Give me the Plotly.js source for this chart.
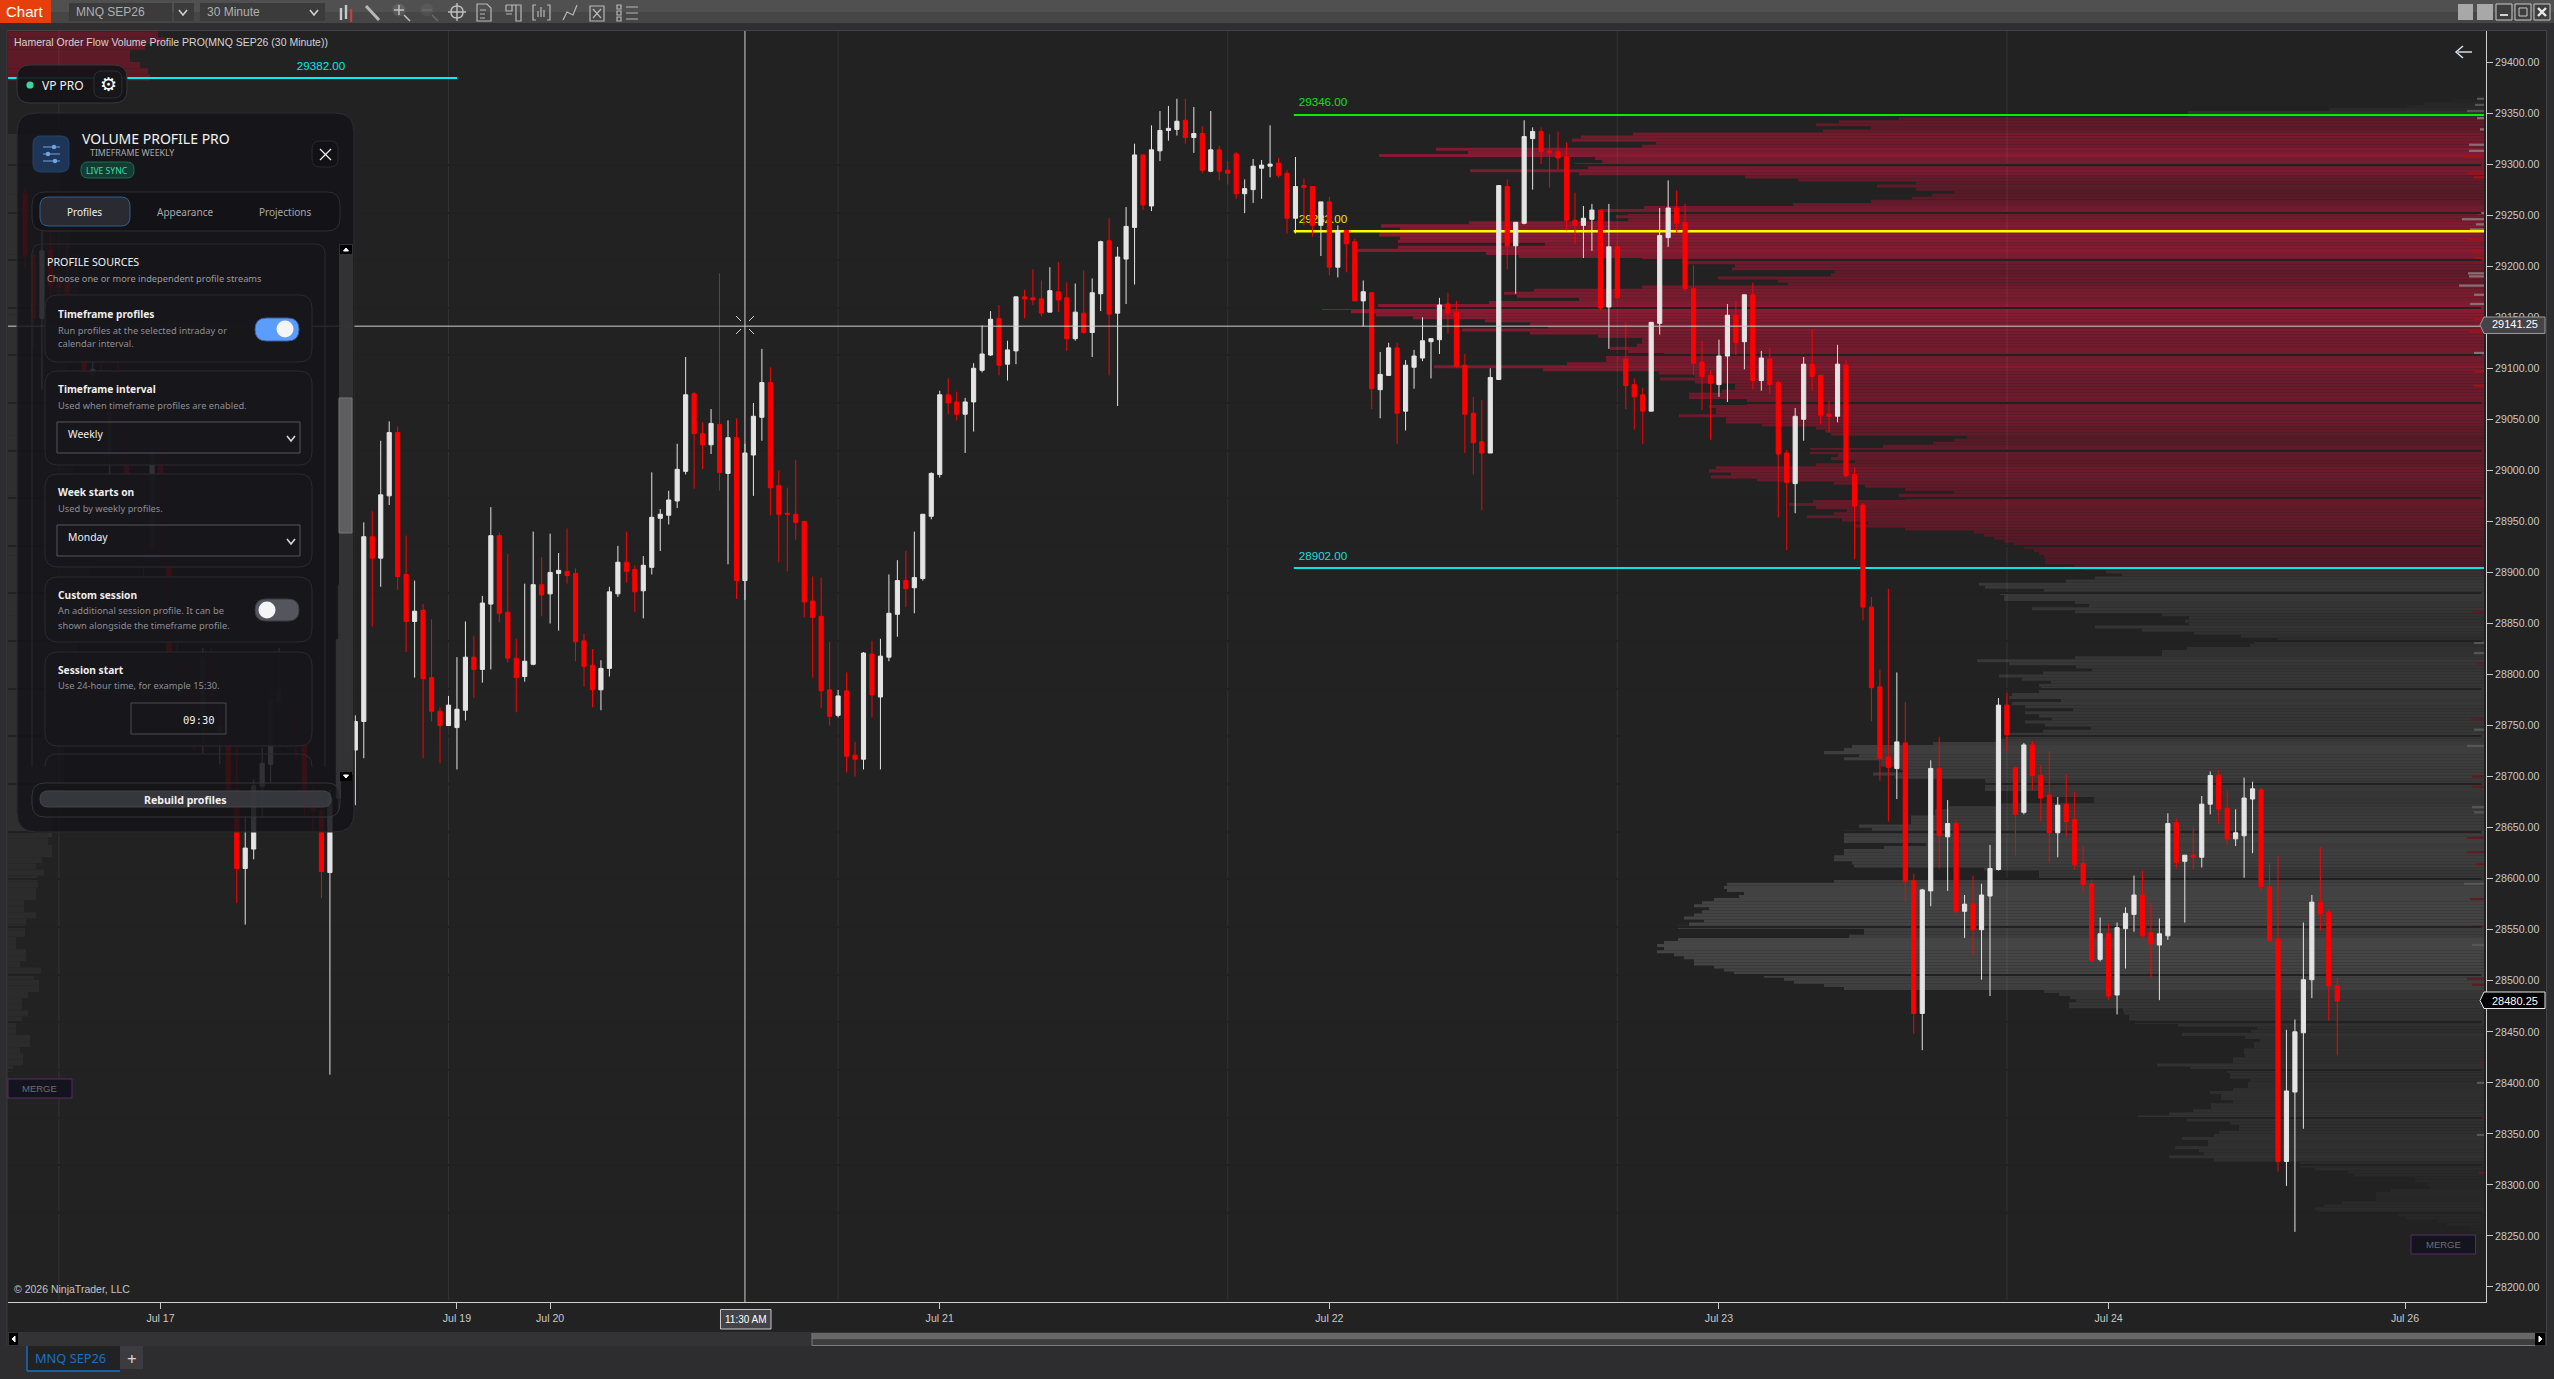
<!DOCTYPE html>
<html>
<head>
<meta charset="utf-8">
<script src="https://cdn.plot.ly/plotly-3.0.1.min.js"></script>
<style>
html, body { margin: 0; padding: 0; background: #2d2d2f; overflow: hidden; }
</style>
</head>
<body>
<div id="plot" style="width:2554px;height:1379px"></div>
<script>
// Candle values, one row per ten bars.
const highs = [
    29275,29221,29234,29231,29187,29220,29148,29146,29118,29125,
    29076,29106,29053,28981,28939,29027,29027,28917,28842,28814,
    28812,28826,28826,28772,28759,28736,28661,28697,28728,28788,
    28826,28809,28764,28746,28692,28672,28687,28888,28834,28760,
    28949,28960,29029,29048,29043,28936,28892,28869,28854,28768,
    28779,28817,28852,28838,28877,28964,28939,28918,28835,28889,
    28940,28915,28938,28919,28943,28904,28840,28825,28814,28886,
    28926,28940,28907,28916,28998,28962,28980,29026,29111,29077,
    29047,29060,29193,29049,29051,29026,29066,29119,29101,29000,
    28983,29010,28950,28896,28895,28832,28785,28802,28734,28822,
    28833,28835,28898,28912,28921,28940,28957,28998,29078,29090,
    29077,29071,29105,29142,29156,29162,29127,29170,29177,29197,
    29186,29199,29204,29184,29183,29196,29188,29225,29247,29219,
    29258,29320,29309,29338,29352,29357,29364,29364,29356,29337,
    29352,29318,29303,29312,29285,29305,29304,29338,29306,29294,
    29307,29286,29278,29263,29268,29240,29235,29227,29186,29174,
    29116,29125,29125,29108,29118,29150,29129,29169,29174,29166,
    29114,29072,29069,29100,29279,29285,29243,29343,29336,29336,
    29329,29332,29321,29272,29259,29261,29255,29261,29225,29145,
    29090,29081,29145,29257,29284,29274,29261,29201,29127,29098,
    29128,29163,29166,29172,29184,29117,29120,29088,29020,29061,
    29111,29138,29093,29068,29123,29108,29003,28968,28876,28805,
    28884,28802,28773,28605,28590,28716,28739,28677,28657,28584,
    28603,28595,28633,28777,28782,28710,28733,28735,28711,28725,
    28680,28702,28685,28632,28599,28562,28556,28557,28572,28603,
    28608,28576,28561,28664,28659,28623,28650,28681,28705,28706,
    28686,28668,28699,28695,28689,28615,28622,28452,28462,28557,
    28584,28631,28570,28503
];
const lows = [
    29198,29121,29079,29170,29163,29141,29123,29092,29076,29020,
    28994,29012,28971,28932,28895,28912,28908,28808,28775,28773,
    28726,28723,28733,28712,28682,28576,28555,28619,28661,28694,
    28764,28728,28718,28661,28646,28581,28408,28666,28721,28672,
    28718,28847,28886,28966,28883,28822,28797,28718,28754,28713,
    28750,28707,28755,28777,28792,28805,28851,28812,28763,28793,
    28809,28857,28850,28843,28889,28813,28788,28768,28765,28798,
    28876,28890,28861,28855,28898,28921,28947,28963,28996,28982,
    29001,29016,28980,28908,28874,28873,28975,29029,28956,28910,
    28901,28932,28856,28797,28767,28750,28758,28704,28700,28707,
    28758,28707,28813,28837,28866,28860,28892,28952,28993,29055,
    29049,29017,29038,29096,29112,29093,29088,29104,29149,29162,
    29151,29155,29155,29117,29127,29134,29111,29156,29093,29063,
    29163,29182,29255,29254,29303,29323,29328,29320,29311,29291,
    29292,29284,29280,29266,29252,29262,29266,29287,29287,29232,
    29232,29240,29229,29210,29191,29189,29194,29166,29141,29060,
    29051,29093,29026,29039,29080,29107,29090,29114,29134,29100,
    29017,28996,28961,29017,29089,29197,29173,29241,29275,29300,
    29277,29295,29235,29222,29208,29215,29157,29119,29169,29060,
    29040,29026,29058,29133,29219,29233,29175,29093,29059,29030,
    29072,29067,29113,29099,29079,29078,29075,28954,28922,28958,
    29029,29078,29045,29037,29047,28993,28913,28853,28754,28696,
    28656,28678,28577,28448,28432,28573,28610,28588,28566,28542,
    28525,28501,28485,28608,28725,28622,28663,28687,28656,28616,
    28621,28641,28609,28586,28517,28519,28481,28467,28512,28548,
    28542,28503,28481,28540,28610,28557,28609,28611,28663,28654,
    28633,28632,28601,28625,28588,28539,28313,28299,28254,28355,
    28483,28549,28461,28427
];
const bodyTops = [
    29271,29211,29215,29216,29182,29186,29143,29123,29099,29098,
    29059,29059,29040,28973,28929,29017,29017,28912,28810,28807,
    28788,28817,28817,28749,28749,28687,28630,28691,28713,28775,
    28785,28785,28764,28741,28675,28667,28679,28834,28834,28754,
    28935,28935,28976,29037,29037,28898,28862,28863,28797,28764,
    28770,28766,28817,28817,28870,28936,28936,28861,28816,28813,
    28888,28888,28900,28902,28901,28899,28833,28809,28806,28881,
    28910,28910,28903,28907,28954,28957,28971,29001,29074,29075,
    29036,29046,29045,29032,29032,29017,29053,29086,29086,28985,
    28958,28957,28950,28872,28857,28785,28779,28784,28721,28821,
    28820,28818,28860,28892,28892,28895,28957,28997,29074,29074,
    29067,29067,29100,29114,29148,29149,29118,29170,29170,29169,
    29168,29176,29175,29169,29155,29154,29174,29224,29225,29209,
    29239,29309,29309,29314,29333,29335,29342,29343,29330,29330,
    29314,29314,29294,29310,29276,29298,29299,29300,29301,29291,
    29278,29279,29278,29263,29263,29235,29235,29224,29175,29174,
    29094,29120,29120,29103,29112,29127,29129,29162,29163,29155,
    29103,29056,29028,29091,29279,29278,29243,29327,29332,29332,
    29313,29312,29307,29245,29247,29255,29255,29219,29219,29109,
    29084,29074,29145,29230,29257,29257,29243,29178,29106,29093,
    29112,29152,29152,29172,29172,29110,29109,29086,29017,29053,
    29104,29104,29093,29055,29104,29103,28996,28966,28866,28788,
    28719,28734,28733,28598,28589,28708,28708,28654,28654,28575,
    28575,28584,28610,28770,28770,28709,28731,28731,28701,28682,
    28672,28673,28658,28615,28595,28546,28546,28552,28566,28584,
    28584,28547,28546,28654,28655,28623,28623,28673,28701,28701,
    28669,28645,28679,28688,28687,28592,28541,28392,28450,28501,
    28577,28577,28567,28495
];
const bodyBottoms = [
    29211,29149,29149,29181,29179,29143,29123,29092,29092,29043,
    29019,29040,28973,28935,28925,28925,28912,28810,28806,28773,
    28753,28753,28763,28744,28687,28610,28610,28629,28690,28712,
    28773,28764,28740,28672,28666,28607,28606,28679,28726,28726,
    28754,28914,28914,28975,28896,28852,28852,28796,28764,28750,
    28750,28748,28765,28805,28805,28869,28860,28816,28797,28798,
    28810,28878,28879,28899,28897,28832,28808,28785,28785,28806,
    28879,28901,28881,28882,28905,28953,28956,28970,28999,29036,
    29025,29025,28998,28997,28892,28892,29015,29052,28983,28957,
    28957,28949,28871,28856,28784,28759,28760,28720,28717,28717,
    28780,28778,28817,28859,28884,28885,28894,28955,28996,29066,
    29055,29055,29067,29098,29113,29103,29104,29117,29168,29167,
    29154,29155,29167,29129,29129,29135,29135,29173,29153,29154,
    29207,29238,29260,29259,29313,29333,29334,29326,29326,29294,
    29293,29293,29291,29271,29271,29275,29296,29298,29289,29247,
    29247,29277,29240,29240,29199,29199,29222,29166,29166,29080,
    29079,29093,29056,29058,29101,29110,29126,29128,29154,29102,
    29055,29027,29017,29017,29089,29220,29220,29242,29325,29312,
    29311,29306,29245,29240,29240,29246,29159,29160,29169,29083,
    29072,29058,29058,29144,29228,29242,29178,29105,29092,29085,
    29084,29112,29125,29126,29088,29088,29084,29016,28988,28987,
    29050,29092,29054,29053,29053,28995,28965,28866,28787,28718,
    28709,28708,28597,28468,28468,28588,28642,28641,28568,28568,
    28550,28550,28583,28609,28741,28663,28665,28701,28679,28645,
    28645,28656,28614,28594,28520,28521,28485,28486,28551,28565,
    28544,28536,28535,28544,28616,28617,28621,28621,28673,28668,
    28639,28639,28642,28678,28592,28539,28323,28323,28391,28449,
    28501,28566,28495,28480.25
];
// W = white (up) bar, R = red (down) bar.
const barColours = [
    'RRWRRRRRWR','WRRRRWRRRR','RWRWRRWWWW','WRRRRRWWRW','WRWWRRWRRR','WWWRWWRRRW','WRWWRRRRWW',
    'WRRWWWWWWR','RWRWRWWWRR','RRRRRRWRRW','RWWWRWWWWR','RWWWWRWWRR','RWRRWRWWRW','WWRWWWWRWR',
    'WRRRWWWWRR','WRRWRWRRWR','WWRWWWWWRR','RRRWWRWWWR','RRRRWWRWRR','RRWWWRRRRR','WWRWRWRRRW',
    'WRRRWRRRRR','RWRRWWRWRW','RWWWRRWRRR','WRRRRWRWWW','RRWWRWRWWR','RWWWRRRWWW','WRRR'
].join('');

// Weekly volume profile, three points per row starting at profileTop.
const profileTop = 29364;
const profileRow = 3;
const profileVolumes = [
    31,61,77,155,296,296,585,
    645,668,613,661,851,903,912,828,842,1048,1016,1105,889,882,909,896,1014,905,739,686,
    568,607,568,530,552,572,613,691,840,883,856,868,856,1015,1103,1084,1104,1105,1084,1086,
    939,1086,1130,998,965,842,802,749,752,649,653,766,706,696,842,950,980,967,905,995,
    1106,1162,1133,1108,1071,999,954,936,1022,954,886,842,842,847,874,856,820,878,878,917,
    1050,941,825,789,824,789,749,749,762,795,795,737,737,775,768,768,805,758,758,722,
    668,659,653,517,530,551,601,674,674,646,653,629,668,768,775,753,773,727,650,619,
    579,530,585,579,671,695,668,637,650,677,642,616,628,579,510,500,490,480,470,460,
    450,445,440,439,439,410,400,
    378,362,389,418,505,499,440,484,480,480,409,395,452,409,322,295,299,295,389,342,
    290,243,207,230,234,297,322,322,409,507,475,408,392,441,485,462,433,445,443,445,
    472,475,423,472,459,411,459,445,432,459,439,393,441,479,479,484,551,632,640,660,
    625,640,603,603,589,576,611,589,499,498,499,499,445,445,390,390,486,535,549,549,
    573,573,573,625,612,640,640,640,640,558,600,640,640,650,650,632,630,500,445,445,
    445,650,757,760,757,740,745,770,782,790,775,782,790,800,780,795,806,620,620,635,
    806,820,827,820,827,810,800,790,790,770,760,750,720,700,690,660,640,440,425,414,
    408,415,415,361,360,355,355,349,306,227,233,302,239,224,230,230,240,240,239,251,
    251,327,294,257,254,254,234,236,236,251,274,263,263,251,273,273,291,315,346,297,
    254,245,245,265,270,302,276,276,309,285,280,315,270,184,184,169,136,130,69,69,
    57,54,93,108,108,108,142,160,169,166,87,78,47,38,14,14,8
];
const valueAreaHigh = 29346;
const valueAreaLow = 28902;

// Previous week's profile along the left edge.
const prevRedPrices = [29427,29421,29415,29409,29403,29397,29391,29385];
const prevRedVolumes = [150,157,137,122,122,132,140,142];
const prevUpperPrices = [29300,29241,29182,29123,29064,29005,28946,28887,28828,28769,28710,28670];
const prevUpperVolumes = [50,62,70,60,48,66,74,82,70,64,56,44];
const prevLowerTop = 28645;
const prevLowerVolumes = [
    40,40,44,44,34,28,36,29,30,28,28,16,16,28,18,17,17,8,8,18,
    18,12,33,26,31,31,20,14,14,20,14,8,8,22,22,12,15,15,5
];

// Bid/ask slivers against the price axis.
const deltaPrices = [
    29364,29358,29352,29345,29334,29319,29313,29307,29291,29287,29252,29246,29241,
    29236,29226,29214,29208,29193,29190,29181,29172,29163,29148,29136,29115,29097,
    29083,28861,28831,28821,28811,28756,28746,28730,28700,28690,28670,28665,28640,
    28626,28614,28595,28580,28553,28535,28502,28496,28420,28400,28367,28349,28312
];
const deltaSizes = [
    7,9,17,7,4,15,15,21,16,10,7,22,8,
    14,16,12,10,16,15,25,10,14,10,15,10,10,
    10,12,10,10,8,13,10,17,12,12,12,10,17,
    17,8,20,14,11,12,17,12,5,7,5,7,5
];
const deltaKinds = 'GGGGGGGRRRGGGGRRRGGGGGRRGRRRGGRRGGRRGGRRRGRRGRRRGRGR';

const levelPrices = [29382, 29346, 29232, 28902];
const levelColours = ['#00f0f0', '#00f000', '#ffff00', '#00e6e6'];
const levelLabelColours = ['#00e8e8', '#10e010', '#e8e800', '#20dcdc'];
const levelThickness = [1.4, 1.4, 2.6, 1.2];
const levelStarts = [-2, 149.8, 149.8, 149.8];
const levelEnds = [51, 290.32, 290.32, 290.32];
const labelStarts = [32, 150.3, 150.3, 150.3];

const gridPrices = [
    29299,29252.5,29206,29159.5,29113,29066,29019.5,28973,28926,28879.5,28833,28786,
    28739.5,28693,28646,28599.5,28553,28506,28459.5,28413,28366,28319.5,28273
];
const gridBars = [4, 50, 96, 142, 188, 234];
const dayTicks = [16, 51, 62, 108, 154, 200, 246, 281];
const dayLabels = ['Jul 17', 'Jul 19', 'Jul 20', 'Jul 21', 'Jul 22', 'Jul 23', 'Jul 24', 'Jul 26'];

const crossBar = 85;
const crossPrice = 29141.25;
const lastPrice = 28480.25;

// Pixel layout of the platform window around the plot.
const PLOT_L = 8, PLOT_R = 2486, PLOT_T = 31, PLOT_B = 1302;
const BAR_PX = 8.47;
const PROFILE_END = 290.32;
const priceMin = 28185.3, priceMax = 29430.4;
const X = v => ((v - PLOT_L) / (PLOT_R - PLOT_L)).toFixed(5);
const Y = v => ((PLOT_B - v) / (PLOT_B - PLOT_T)).toFixed(5);
const UI_FONT = '"Noto Sans", sans-serif';
const CHART_FONT = '"Liberation Sans", Arial, sans-serif';

const barIndex = highs.map((_, i) => i);
const opens = barIndex.map(i => barColours[i] === 'W' ? bodyBottoms[i] : bodyTops[i]);
const closes = barIndex.map(i => barColours[i] === 'W' ? bodyTops[i] : bodyBottoms[i]);

const profilePrices = profileVolumes.map((_, k) => profileTop - profileRow * k - profileRow / 2);
const profileColours = profileVolumes.map((v, k) => {
    if (profilePrices[k] < valueAreaHigh && profilePrices[k] > valueAreaLow) {
        return `rgb(${Math.round(45 + 0.08 * v)},${Math.round(24 + 0.003 * v)},${Math.round(28 + 0.02 * v)})`;
    }
    const g = Math.round(36 + 0.04 * v);

    return `rgb(${g},${g},${g})`;
});
const deltaColours = deltaPrices.map((p, i) => {
    const inside = p > valueAreaLow && p < valueAreaHigh;

    if (deltaKinds[i] === 'R') {
        return inside ? '#a01218' : '#5e1c22';
    }
    return inside ? '#8a6e76' : '#565656';
});

const hbar = (props) => ({ type: 'bar', orientation: 'h', hoverinfo: 'skip', showlegend: false, ...props });

const traces = [
    hbar({
        y: prevUpperPrices, x: prevUpperVolumes.map(v => v / BAR_PX), base: -2.007, width: 59,
        marker: { color: '#2f2f2f', line: { width: 0 } },
    }),
    hbar({
        y: prevLowerVolumes.map((_, k) => prevLowerTop - 6 * k - 3), x: prevLowerVolumes.map(v => v / BAR_PX), base: -2.007, width: 6,
        marker: { color: '#2b2b2b', line: { width: 0 } },
    }),
    hbar({
        y: prevRedPrices, x: prevRedVolumes.map(v => v / BAR_PX), base: -2.007, width: 6,
        marker: { color: '#5f1a27', line: { width: 0 } },
    }),
    hbar({
        y: profilePrices, x: profileVolumes.map(v => -v / BAR_PX), base: PROFILE_END, width: profileRow,
        marker: { color: profileColours, line: { width: 0 } },
    }),
    hbar({
        y: deltaPrices, x: deltaSizes.map(v => -v / BAR_PX), base: PROFILE_END, width: 2.2,
        marker: { color: deltaColours, line: { width: 0 } },
    }),
    // Day separators run over the profile but under the candles, so they are bars too.
    {
        type: 'bar', orientation: 'v', hoverinfo: 'skip', showlegend: false,
        x: gridBars, y: gridBars.map(() => priceMax - priceMin - 2), base: priceMin + 2, width: 0.13,
        marker: { color: 'rgba(255,255,255,0.07)', line: { width: 0 } },
    },
    hbar({
        y: gridPrices, x: gridPrices.map(() => 292), base: -2, width: 1.2,
        marker: { color: '#212121', line: { width: 0 } },
    }),
    hbar({
        y: levelPrices.map(p => p + 2.25), x: levelEnds.map((e, i) => e - levelStarts[i]), base: levelStarts, width: levelThickness,
        marker: { color: levelColours, line: { width: 0 } },
    }),
    // Level prices sit under the candles on the original, which hide part of 29232.
    hbar({
        y: levelPrices.map(p => p + 15), x: levelPrices.map(() => 5.9), base: labelStarts, width: 14,
        marker: { color: 'rgba(0,0,0,0)', line: { width: 0 } },
        text: levelPrices.map(p => p.toFixed(2)), textposition: 'inside', insidetextanchor: 'middle',
        constraintext: 'none', textangle: 0, cliponaxis: false,
        textfont: { family: CHART_FONT, size: 11.6, color: levelLabelColours },
    }),
    {
        type: 'candlestick', hoverinfo: 'skip', showlegend: false, whiskerwidth: 0,
        x: barIndex, open: opens, high: highs, low: lows, close: closes,
        increasing: { line: { color: '#e4e4e4', width: 1 }, fillcolor: '#e4e4e4' },
        decreasing: { line: { color: '#ff0000', width: 1 }, fillcolor: '#ff0000' },
    },
];

// --- window furniture --------------------------------------------------------
const shapes = [];
const annotations = [];

function rect(x0, y0, x1, y1, fill, line, lw) {
    shapes.push({
        type: 'rect', layer: 'above', xref: 'paper', yref: 'paper', x0: X(x0), x1: X(x1), y0: Y(y0), y1: Y(y1),
        fillcolor: fill || 'rgba(0,0,0,0)', line: { color: line || 'rgba(0,0,0,0)', width: line ? (lw || 1) : 0 },
    });
}
function path(d, line, lw, fill) {
    const converted = d.replace(/(-?[\d.]+),(-?[\d.]+)/g, (m, x, y) => `${X(+x)},${Y(+y)}`);

    shapes.push({
        type: 'path', layer: 'above', xref: 'paper', yref: 'paper', path: converted,
        fillcolor: fill || 'rgba(0,0,0,0)', line: { color: line || 'rgba(0,0,0,0)', width: line ? (lw || 1) : 0 },
    });
}
function round(x0, y0, x1, y1, r, fill, line, lw) {
    path(`M${x0 + r},${y0} L${x1 - r},${y0} Q${x1},${y0} ${x1},${y0 + r} L${x1},${y1 - r} Q${x1},${y1} ${x1 - r},${y1} ` +
        `L${x0 + r},${y1} Q${x0},${y1} ${x0},${y1 - r} L${x0},${y0 + r} Q${x0},${y0} ${x0 + r},${y0} Z`, line, lw, fill);
}
function dot(cx, cy, r, fill) {
    shapes.push({
        type: 'circle', layer: 'above', xref: 'paper', yref: 'paper', x0: X(cx - r), x1: X(cx + r), y0: Y(cy + r), y1: Y(cy - r),
        fillcolor: fill, line: { width: 0 },
    });
}
function text(x, y, str, size, color, anchor, family) {
    annotations.push({
        xref: 'paper', yref: 'paper', x: X(x), y: Y(y), text: str, showarrow: false, borderpad: 0,
        xanchor: anchor || 'left', yanchor: 'middle', align: anchor || 'left',
        font: { family: family || UI_FONT, size, color },
    });
}

// crosshair
shapes.push({
    type: 'line', layer: 'above', xref: 'x', yref: 'paper', x0: crossBar, x1: crossBar, y0: 0, y1: 1,
    line: { color: '#cfcfcf', width: 1 },
});
shapes.push({
    type: 'line', layer: 'above', xref: 'paper', yref: 'y', x0: 0, x1: 1, y0: crossPrice, y1: crossPrice,
    line: { color: '#cfcfcf', width: 1 },
});
path('M736,316 L741,321 M754,316 L749,321 M736,334 L741,329 M754,334 L749,329', '#cfcfcf', 1);

// window frame and toolbar
rect(0, 0, 7, 1379, '#2d2d2f');
rect(2547, 0, 2554, 1379, '#2d2d2f');
rect(0, 23, 2554, 30.5, '#2f2f31');
rect(0, 1346, 2554, 1379, '#2d2d2f');
path('M7,30.5 L2546.5,30.5 L2546.5,1346', '#444447', 1);
path('M7,30.5 L7,1346', '#3c3c3f', 1);
rect(0, 0, 2554, 12, '#505050');
rect(0, 12, 2554, 23, '#464646');
rect(0, 0, 51, 23, '#e63f0c');
text(25.5, 12, 'Chart', 15, '#ffffff', 'center', CHART_FONT);
rect(69, 3, 172, 21, '#3b3b3b');
text(75, 12, 'MNQ SEP26', 12, '#b0b0b0', 'left', CHART_FONT);
rect(174, 3, 194, 21, '#3b3b3b');
path('M179,10 L183,15 L187,10', '#d0d0d0', 1.6);
rect(200, 3, 325, 21, '#3b3b3b');
text(206, 12, '30 Minute', 12, '#b0b0b0', 'left', CHART_FONT);
path('M310,10 L314,15 L318,10', '#d0d0d0', 1.6);

// toolbar icons
path('M341,8 L341,20 M346,5 L346,19', '#c8c8c8', 2.4);
path('M351,9 L351,22', '#c04040', 2.4);
path('M366,6 L379,20', '#b8b8b8', 3);
dot(399, 10, 6.5, 'rgba(255,255,255,0.1)');
path('M394,10 L404,10 M399,5 L399,15 M404,15 L410,21', '#c0c0c0', 1.5);
dot(427, 10, 6.5, 'rgba(255,255,255,0.05)');
path('M422,10 L432,10 M432,15 L438,21', '#6a6a6a', 1.5);
path('M457,3 L457,21 M448,12 L466,12', '#c0c0c0', 1.4);
path('M451,12 Q451,6 457,6 Q463,6 463,12 Q463,18 457,18 Q451,18 451,12', '#c0c0c0', 1.4);
path('M477,4 L487,4 L491,8 L491,21 L477,21 Z M480,10 L486,10 M480,14 L485,14 M480,18 L485,18', '#b8b8b8', 1.2);
path('M506,5 L521,5 L521,21 L516,21 L516,5 M506,5 L506,11 L512,11 L512,5 M506,14 L512,14', '#b8b8b8', 1.2);
path('M536,5 L533,5 L533,20 L536,20 M547,5 L550,5 L550,20 L547,20 M538,17 L538,11 M541,17 L541,7 M544,17 L544,10', '#b8b8b8', 1.2);
path('M563,20 L567,12 L573,15 L577,5', '#b8b8b8', 1.2);
path('M590,6 L604,6 L604,21 L590,21 Z M593,9 L601,18 M601,9 L593,18', '#b8b8b8', 1.2);
path('M626,7 L638,7 M626,13 L638,13 M626,19 L638,19', '#b8b8b8', 1.2);
path('M617,5 L621,5 L621,9 L617,9 Z M617,11 L621,11 L621,15 L617,15 Z M617,17 L621,17 L621,21 L617,21 Z', '#b8b8b8', 1.2);

// window buttons
rect(2458, 4, 2473, 20, '#a8a8a8');
rect(2477, 4, 2493, 20, '#a8a8a8');
rect(2496, 4, 2512, 20, '#3e3e3e', '#c8c8c8');
path('M2500,15 L2508,15', '#d0d0d0', 2);
rect(2515, 4, 2531, 20, '#3e3e3e', '#c8c8c8');
rect(2519, 8, 2527, 16, 'rgba(0,0,0,0)', '#c8c8c8');
rect(2534, 4, 2550, 20, '#3e3e3e', '#c8c8c8');
path('M2538,8 L2546,16 M2546,8 L2538,16', '#e8e8e8', 2.4);

// back arrow
path('M2458,52 L2472,52', '#e8e8e8', 1.4);
path('M2463,46 L2456,52 L2463,58', '#d8e8f8', 1.4);

text(13, 42, 'Hameral Order Flow Volume Profile PRO(MNQ SEP26 (30 Minute))', 10.5, '#d4d4d4', 'left', CHART_FONT);
text(13, 1289, '© 2026 NinjaTrader, LLC', 10.5, '#c4c4c4', 'left', CHART_FONT);

// MERGE tags
rect(8, 1079, 72, 1098, '#14141e', '#5a2a66');
text(40, 1088.5, 'MERGE', 9.5, '#6e6e72', 'center', CHART_FONT);
rect(2411, 1235, 2475.5, 1254, '#14141e', '#5a2a66');
text(2443, 1244.5, 'MERGE', 9.5, '#6e6e72', 'center', CHART_FONT);

// price and time tags
path('M2480,325 L2484,317 L2545,317 L2545,333.5 L2484,333.5 Z', '#9a9a9a', 1, '#444448');
text(2515, 324.5, crossPrice.toFixed(2), 11, '#ffffff', 'center', CHART_FONT);
path('M2480,1000.5 L2484,992 L2545,992 L2545,1008.5 L2484,1008.5 Z', '#e8e8e8', 1, '#000000');
text(2515, 1000.5, lastPrice.toFixed(2), 11, '#ffffff', 'center', CHART_FONT);
rect(720.5, 1309.5, 771, 1329, '#444448', '#c8c8c8');
text(745.7, 1319, '11:30 AM', 10, '#ffffff', 'center', CHART_FONT);

// bottom scrollbar and tab strip
rect(8, 1332, 2546, 1346, '#333335');
rect(812, 1333, 2535, 1339.5, '#686868');
rect(812, 1339.5, 2535, 1345.5, '#3e3e3e');
path('M812,1345.5 L2535,1345.5 M812,1333 L812,1345.5', '#7c7c7c', 1);
rect(9, 1333, 18, 1345, '#000000');
path('M15,1336 L12,1339 L15,1342 Z', '#ffffff', 1, '#ffffff');
rect(2535, 1333, 2545, 1345, '#000000');
path('M2539,1336 L2542,1339 L2539,1342 Z', '#ffffff', 1, '#ffffff');
rect(27, 1346, 120, 1371, '#222222');
path('M27,1371 L120,1371 M27,1346 L27,1371', '#1673c5', 1.4);
text(71, 1357.5, 'MNQ SEP26', 12.8, '#1673c5', 'center', UI_FONT);
rect(120, 1346, 143, 1369, '#3c3c40');
text(131.5, 1358, '+', 17, '#d8d8d8', 'center', UI_FONT);

// --- VP PRO settings panel ---------------------------------------------------
round(17, 65, 127, 103, 13, 'rgba(20,20,24,0.93)', '#38383c');
dot(30, 85, 3.6, '#39d6a0');
text(41, 85, 'VP PRO', 12, '#f0f0f0');
round(94, 71, 122, 98, 8, '#17171b', '#2e2e33');
text(108, 84.5, '⚙', 19, '#ffffff', 'center', '"DejaVu Sans"');

round(17, 113, 354, 832, 19, 'rgba(21,21,26,0.86)', '#2d2d33');
round(33, 136, 69, 172, 8, '#1d3556', '#254268');
path('M43,147 L60,147 M43,154 L60,154 M43,161 L60,161', '#6da6e0', 1.1);
dot(54, 147, 2.2, '#6da6e0');
dot(48, 154, 2.2, '#6da6e0');
dot(55, 161, 2.2, '#6da6e0');
text(81, 138.5, 'VOLUME PROFILE PRO', 14, '#f2f2f2');
text(89, 153, 'TIMEFRAME WEEKLY', 8.8, '#a8a8ac');
round(81, 162, 134, 178, 7, '#123d33', '#1f6b53');
text(107.5, 170.5, 'LIVE SYNC', 8.6, '#3fdca6', 'center');
round(312, 141, 338, 167, 8, '#121216', '#2a2a2e');
path('M320,149 L331,160 M331,149 L320,160', '#f0f0f0', 1.2);

round(32, 192, 340, 231, 13, 'rgba(18,18,22,0.6)', '#2d2d33');
round(40, 197, 130, 226, 9, '#2a2a33', '#2d5f93');
text(85, 212, 'Profiles', 10, '#f0f0f0', 'center');
text(185, 212, 'Appearance', 10, '#a8a8ac', 'center');
text(285, 212, 'Projections', 10, '#a8a8ac', 'center');

path('M32,767 L32,254 Q32,244 42,244 L315,244 Q325,244 325,254 L325,767', '#2a2a2f', 1);
text(46, 262, 'PROFILE SOURCES', 10.7, '#f0f0f0');
text(46, 278, 'Choose one or more independent profile streams', 9.25, '#9a9a9e');

round(45, 295, 312, 362, 13, 'rgba(22,22,28,0.9)', '#2a2a30');
text(57, 314, '<b>Timeframe profiles</b>', 10.2, '#eeeeee');
text(57, 330, 'Run profiles at the selected intraday or', 9.3, '#8e8e94');
text(57, 344, 'calendar interval.', 9.3, '#8e8e94');
round(255, 318, 299, 341, 11.5, '#5b9dff', '#3a5e96');
dot(285, 329, 8.5, '#f5f5f5');

round(45, 371, 312, 465, 13, 'rgba(22,22,28,0.9)', '#2a2a30');
text(57, 389, '<b>Timeframe interval</b>', 10.2, '#eeeeee');
text(57, 405, 'Used when timeframe profiles are enabled.', 9.3, '#8e8e94');
rect(57, 422, 300, 453, 'rgba(0,0,0,0)', '#56565c');
text(67, 434, 'Weekly', 10.4, '#f0f0f0');
path('M287,436 L291,441 L295,436', '#d8d8d8', 1.6);

round(45, 474, 312, 567, 13, 'rgba(22,22,28,0.9)', '#2a2a30');
text(57, 492, '<b>Week starts on</b>', 10.2, '#eeeeee');
text(57, 508, 'Used by weekly profiles.', 9.3, '#8e8e94');
rect(57, 525, 300, 556, 'rgba(0,0,0,0)', '#56565c');
text(67, 537, 'Monday', 10.4, '#f0f0f0');
path('M287,539 L291,544 L295,539', '#d8d8d8', 1.6);

round(45, 577, 312, 642, 13, 'rgba(22,22,28,0.9)', '#2a2a30');
text(57, 595, '<b>Custom session</b>', 10.2, '#eeeeee');
text(57, 611, 'An additional session profile. It can be', 9.3, '#8e8e94');
text(57, 625, 'shown alongside the timeframe profile.', 9.3, '#8e8e94');
round(255, 599, 299, 621, 11, '#55555e', '#3c3c42');
dot(267, 610, 8.5, '#f5f5f5');

round(45, 652, 312, 746, 13, 'rgba(22,22,28,0.9)', '#2a2a30');
text(57, 670, '<b>Session start</b>', 10.2, '#eeeeee');
text(57, 686, 'Use 24-hour time, for example 15:30.', 9.3, '#8e8e94');
rect(131, 703, 226, 734, 'rgba(0,0,0,0)', '#4a4a50');
text(199, 719.5, '09:30', 10.5, '#f0f0f0', 'center', '"DejaVu Sans Mono"');
path('M45,767 L45,766 Q45,754 58,754 L299,754 Q312,754 312,766 L312,767', '#2a2a30', 1);

// panel scrollbar
rect(339, 244, 353, 775, 'rgba(52,52,54,0.97)');
rect(339, 398, 352, 533, '#5e5e60', '#777779');
rect(340, 245, 352, 254, '#000000');
path('M343.5,251 L346,248 L348.5,251 Z', '#ffffff', 1, '#ffffff');
rect(340, 772, 352, 781, '#000000');
path('M343.5,775 L346,778 L348.5,775 Z', '#ffffff', 1, '#ffffff');

round(32, 783, 340, 817, 13, 'rgba(20,20,24,0.35)', '#34343a');
round(40, 791, 331, 807, 8, 'rgba(60,60,68,0.85)', '#45454c');
text(186, 800, '<b>Rebuild profiles</b>', 10.6, '#f0f0f0', 'center');

const layout = {
    width: 2554,
    height: 1379,
    autosize: false,
    margin: { l: PLOT_L, r: 2554 - PLOT_R, t: PLOT_T, b: 1379 - PLOT_B, pad: 0 },
    paper_bgcolor: '#222222',
    plot_bgcolor: '#222222',
    showlegend: false,
    barmode: 'overlay',
    boxgap: 0.3,
    dragmode: false,
    hovermode: false,
    xaxis: {
        type: 'linear',
        range: [ -2.007, 290.56 ],
        rangeslider: { visible: false },
        tickmode: 'array',
        tickvals: dayTicks,
        ticktext: dayLabels,
        ticks: 'outside',
        ticklen: 6,
        tickcolor: '#c8c8c8',
        tickfont: { family: CHART_FONT, size: 10.6, color: '#c8c8c8' },
        showgrid: false,
        zeroline: false,
        showline: true,
        linecolor: '#cfcfcf',
        linewidth: 1,
        fixedrange: true,
    },
    yaxis: {
        side: 'right',
        range: [ priceMin, priceMax ],
        tick0: 28200,
        dtick: 50,
        tickformat: '.2f',
        ticks: 'outside',
        ticklen: 6,
        tickcolor: '#c8c8c8',
        tickfont: { family: CHART_FONT, size: 10.6, color: '#c8c8c8' },
        showgrid: false,
        zeroline: false,
        showline: true,
        linecolor: '#cfcfcf',
        linewidth: 1,
        fixedrange: true,
    },
    shapes,
    annotations,
};

Plotly.newPlot('plot', traces, layout, { displayModeBar: false, responsive: false });
</script>
</body>
</html>
